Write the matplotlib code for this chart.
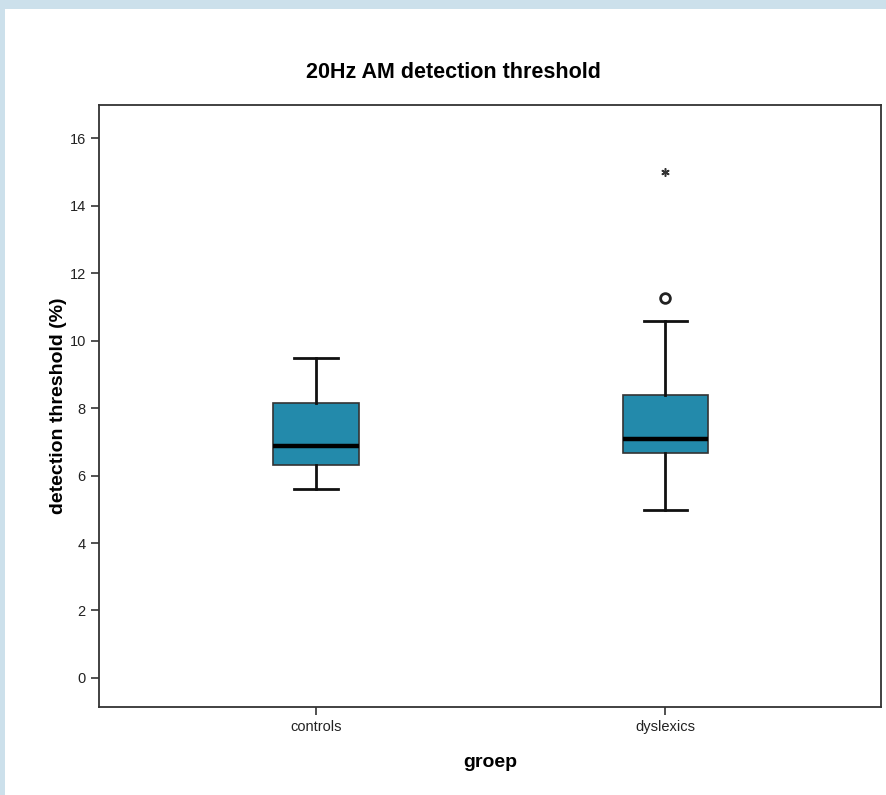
import matplotlib
matplotlib.use("Agg")
import matplotlib.pyplot as plt
from matplotlib.patches import Rectangle
import numpy as np

plt.rcParams['font.family'] = ['Liberation Sans', 'DejaVu Sans']

# ---- data ----
groups = ["controls", "dyslexics"]
whisker_low = [5.61, 4.99]
q1 = [6.32, 6.68]
median = [6.88, 7.09]
q3 = [8.16, 8.40]
whisker_high = [9.47, 10.59]
outliers = [[], [11.25]]          # circles
extremes = [[], [14.99]]          # asterisks
yticks = [0, 2, 4, 6, 8, 10, 12, 14, 16]

title = "20Hz AM detection threshold"
xlabel = "groep"
ylabel = "detection threshold (%)"

box_color = "#238AAB"

W, H = 886, 795
fig = plt.figure(figsize=(W / 100, H / 100), dpi=100)
fig.patch.set_facecolor("white")

# screenshot frame (light blue strips)
frame_col = "#CCE0EB"
fig.patches.append(Rectangle((0, 1 - 9 / H), 1, 9 / H, transform=fig.transFigure,
                             facecolor=frame_col, edgecolor="none", zorder=0))
fig.patches.append(Rectangle((0, 0), 5 / W, 1, transform=fig.transFigure,
                             facecolor=frame_col, edgecolor="none", zorder=0))

ax = fig.add_axes([99 / W, (H - 707) / H, (880.5 - 99) / W, (707 - 105) / H])

stats = []
for i, g in enumerate(groups):
    stats.append(dict(label=g, whislo=whisker_low[i], q1=q1[i], med=median[i],
                      q3=q3[i], whishi=whisker_high[i], fliers=outliers[i]))

positions = np.arange(len(groups))
ax.bxp(stats, positions=positions, widths=0.245, capwidths=0.125,
       patch_artist=True, showfliers=True,
       boxprops=dict(facecolor=box_color, edgecolor="#333333", linewidth=1.2),
       medianprops=dict(color="black", linewidth=3.2),
       whiskerprops=dict(color="#111111", linewidth=2.0),
       capprops=dict(color="#111111", linewidth=2.0),
       flierprops=dict(marker="o", markersize=7, markerfacecolor="white",
                       markeredgecolor="#222222", markeredgewidth=2.0))

for i, ex in enumerate(extremes):
    if ex:
        ax.plot([positions[i]] * len(ex), ex, linestyle="none",
                marker=(6, 2, 0), markersize=6, color="#333333", markeredgewidth=1.1)

ax.set_xlim(-0.622, 1.616)
ax.set_ylim(-0.86, 16.98)
ax.set_yticks(yticks)
ax.set_yticklabels([str(t) for t in yticks])
ax.set_xticks(positions)
ax.set_xticklabels(groups)

ax.tick_params(axis="both", direction="out", length=6, width=1.2, colors="#333333",
               labelcolor="#222222", labelsize=10.5)
for s in ax.spines.values():
    s.set_linewidth(1.3)
    s.set_color("#333333")

ax.set_xlabel(xlabel, fontsize=14, fontweight="bold", labelpad=14)
ax.set_ylabel(ylabel, fontsize=14, fontweight="bold", labelpad=2)
fig.text(453 / W, 1 - 72 / H, title, ha="center", va="center",
         fontsize=15.5, fontweight="bold")

fig.savefig("out.png", dpi=100)
